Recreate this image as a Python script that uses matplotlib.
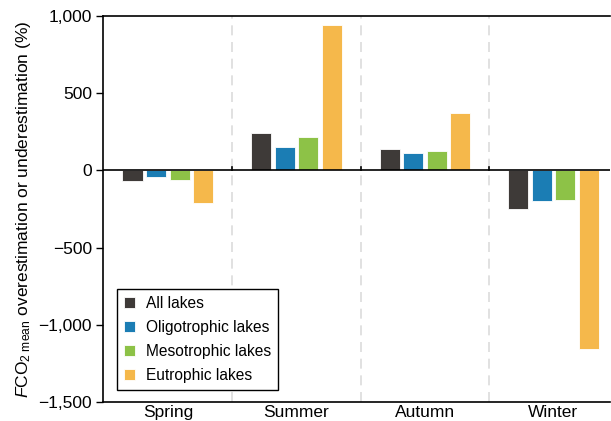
import numpy as np
import matplotlib.pyplot as plt

plt.rcParams['font.family'] = ['Liberation Sans', 'DejaVu Sans']
plt.rcParams['mathtext.fontset'] = 'custom'
plt.rcParams['mathtext.rm'] = 'Liberation Sans'
plt.rcParams['mathtext.it'] = 'Liberation Sans:italic'

seasons = ['Spring', 'Summer', 'Autumn', 'Winter']
groups = ['All lakes', 'Oligotrophic lakes', 'Mesotrophic lakes', 'Eutrophic lakes']
all_lakes = [-68, 240, 137, -252]
oligotrophic = [-43, 151, 113, -200]
mesotrophic = [-62, 215, 126, -189]
eutrophic = [-211, 941, 374, -1159]
colors = ['#3e3a38', '#1b7db4', '#8dc247', '#f5b84b']

fig = plt.figure(figsize=(6.11, 4.21), dpi=100)
ax = fig.add_axes([103/611, 19/421, 507/611, 386/421])

x = np.arange(len(seasons))
width = 0.158
step = 0.183
series = [all_lakes, oligotrophic, mesotrophic, eutrophic]
for i, (vals, lab, c) in enumerate(zip(series, groups, colors)):
    ax.bar(x + (i - 1.5) * step, vals, width, color=c, label=lab,
           edgecolor='white', linewidth=0.6, zorder=3)

# season separators
for s in x[:-1] + 0.5:
    ax.axvline(s, color='#dcdcdc', linestyle=(0, (6, 4)), linewidth=1.2, zorder=1)
    ax.plot([s, s], [0, 25], color='black', linewidth=1.2, zorder=4)

ax.axhline(0, color='black', linewidth=1.2, zorder=4)

ax.set_xlim(-0.505, 3.44)
ax.set_ylim(-1500, 1000)
ax.set_yticks([-1500, -1000, -500, 0, 500, 1000])
ax.set_yticklabels(['\u22121,500', '\u22121,000', '\u2212500', '0', '500', '1,000'])
ax.set_xticks(x)
ax.set_xticklabels(seasons)
ax.tick_params(axis='x', length=0, pad=2, labelsize=12.5)
ax.tick_params(axis='y', length=5, width=1, labelsize=12.5, pad=3)

for side in ['left', 'bottom', 'top']:
    ax.spines[side].set_linewidth(1.2)
ax.spines['right'].set_visible(False)

ax.set_ylabel(r'$\it{F}\rm{CO}_{2\ mean}$ overestimation or underestimation (%)',
              fontsize=12.5, labelpad=4)

leg = ax.legend(loc='lower left', bbox_to_anchor=(0.028, 0.031), fontsize=11.2,
                handlelength=0.7, handleheight=0.7, handletextpad=0.7,
                labelspacing=0.58, borderpad=0.45, borderaxespad=0,
                fancybox=False, edgecolor='black', framealpha=1)
leg.get_frame().set_linewidth(1.0)

fig.savefig('out.png', dpi=100)
